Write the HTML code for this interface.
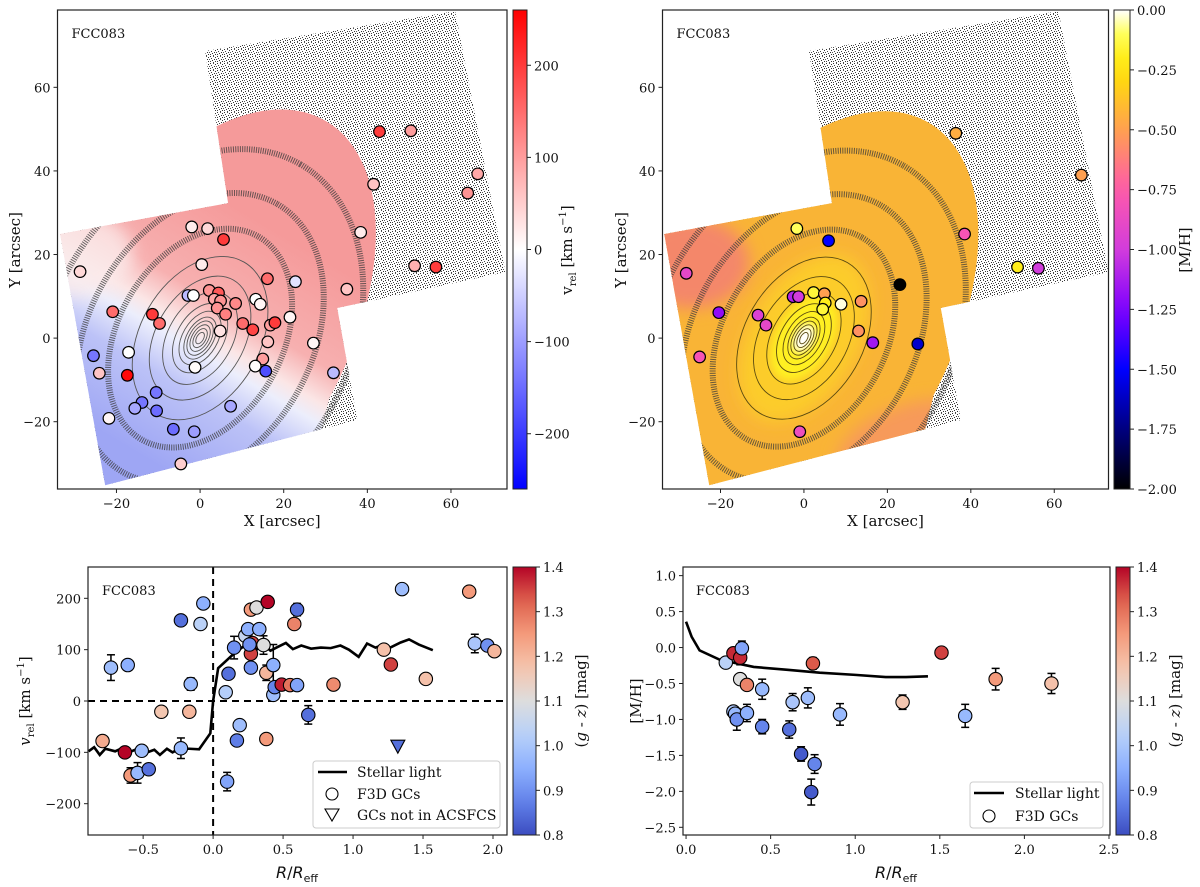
<!DOCTYPE html>
<html><head><meta charset="utf-8">
<style>
html,body{margin:0;padding:0;background:#fff;}
svg{display:block;font-family:"DejaVu Serif","Liberation Serif",serif;}
</style></head>
<body>
<svg id="fig" width="1200" height="887" viewBox="0 0 1200 887" xmlns="http://www.w3.org/2000/svg">
<defs>
<pattern id="speck" width="7" height="7" patternUnits="userSpaceOnUse">
<rect width="7" height="7" fill="#ffffff"/>
<rect x="0" y="0" width="1" height="1" fill="#333"/>
<rect x="3" y="0" width="1" height="1" fill="#555"/>
<rect x="5" y="1" width="1" height="1" fill="#333"/>
<rect x="1" y="2" width="1" height="1" fill="#444"/>
<rect x="4" y="3" width="1" height="1" fill="#333"/>
<rect x="6" y="3" width="1" height="1" fill="#555"/>
<rect x="2" y="4" width="1" height="1" fill="#333"/>
<rect x="0" y="5" width="1" height="1" fill="#444"/>
<rect x="5" y="5" width="1" height="1" fill="#333"/>
<rect x="3" y="6" width="1" height="1" fill="#444"/>
</pattern>
<filter id="blur8" x="-50%" y="-50%" width="200%" height="200%"><feGaussianBlur stdDeviation="8"/></filter>
<filter id="blur4" x="-50%" y="-50%" width="200%" height="200%"><feGaussianBlur stdDeviation="4"/></filter>
</defs>
</svg>
<script>
// ---------- DATA ----------
const mapX=[-2.0,1.8,5.6,0.4,16.1,22.8,-28.7,-2.9,-1.6,2.2,4.4,3.4,4.9,8.5,4.1,6.1,13.3,14.4,10.2,12.6,16.8,17.9,21.5,35.1,-20.9,-11.4,-9.7,4.8,16.2,27.1,-17.1,-25.5,15.0,13.2,15.7,-1.2,-24.1,-17.4,31.9,-10.5,-13.9,-15.6,-10.4,7.3,-21.8,-6.4,-1.4,-4.6,42.9,50.4,41.5,38.4,66.4,64.0,51.3,56.4];
const mapY=[26.6,26.2,23.6,17.6,14.2,13.5,15.9,10.2,10.2,11.4,10.8,9.3,8.9,8.3,7.2,5.7,9.3,8.1,3.5,2.0,3.1,3.7,5.0,11.7,6.3,5.7,3.5,1.7,-0.9,-1.2,-3.4,-4.2,-5.0,-6.7,-7.9,-7.0,-8.4,-8.9,-8.3,-13.0,-15.4,-16.8,-17.4,-16.3,-19.2,-21.8,-22.4,-30.1,49.4,49.6,36.8,25.3,39.3,34.7,17.3,17.0];
const mapV=[20,40,200,20,150,-30,40,-70,0,110,170,90,110,120,110,130,0,10,150,190,100,200,10,60,150,200,150,30,60,10,0,-140,100,5,-180,5,60,250,-70,-140,-140,-90,-150,-90,10,-150,-100,50,200,100,60,20,90,110,80,200];
const metX=[-1.7,5.9,-28.2,23.0,2.3,4.9,-2.6,-1.3,5.1,8.9,4.5,13.7,-20.4,-11.0,-9.1,13.1,16.5,27.3,-25.0,-1.0,36.4,38.5,66.5,51.2,56.2];
const metY=[26.2,23.3,15.5,12.8,10.9,10.6,9.9,9.9,8.4,8.1,6.9,8.8,6.1,5.5,3.1,1.7,-1.1,-1.4,-4.5,-22.4,49.0,24.9,39.0,17.0,16.7];
const metMH=[-0.1,-1.5,-0.9,-2.0,-0.15,-0.5,-1.1,-1.0,-0.2,-0.02,-0.15,-0.55,-1.2,-0.95,-0.9,-0.55,-1.15,-1.6,-0.8,-0.85,-0.45,-0.8,-0.5,-0.2,-1.0];
const rvR=[-0.73,-0.61,-0.79,-0.63,-0.51,-0.59,-0.54,-0.46,-0.23,-0.07,-0.09,-0.16,-0.37,-0.17,-0.23,0.09,0.11,0.15,0.10,0.17,0.19,0.27,0.31,0.39,0.23,0.25,0.33,0.28,0.27,0.27,0.26,0.36,0.38,0.38,0.43,0.43,0.44,0.49,0.55,0.60,0.60,0.58,0.68,0.86,1.22,1.27,1.52,1.35,1.83,1.87,1.96,2.01];
const rvV=[65,70,-78,-100,-97,-145,-140,-133,157,190,150,33,-21,-21,-92,17,53,104,-157,-77,-47,178,182,193,127,140,140,113,92,65,110,109,55,-74,70,12,27,32,31,31,178,150,-27,32,100,71,43,218,213,112,108,97];
const rvErr=[25,5,10,5,5,15,20,10,5,8,5,12,5,10,20,5,5,22,18,5,5,5,5,5,5,5,10,5,5,5,5,18,15,10,40,5,5,5,5,8,12,5,18,5,5,5,10,10,5,18,5,5];
const rvCol=[0.98,0.95,1.22,1.4,0.98,1.25,0.97,0.85,0.85,0.95,1.03,0.97,1.17,1.2,0.97,1.02,0.85,0.9,0.93,0.87,0.98,1.25,1.1,1.4,1.05,0.95,0.95,1.35,1.35,0.9,0.9,1.1,1.2,1.25,0.95,0.98,0.88,1.38,1.3,0.93,0.85,1.28,0.85,1.27,1.18,1.35,1.18,0.98,1.25,1.0,0.9,1.2];
const triR=[1.32];
const triV=[-88];
const triCol=[0.85];
const slR=[-0.89,-0.85,-0.81,-0.77,-0.70,-0.66,-0.60,-0.55,-0.49,-0.42,-0.38,-0.33,-0.29,-0.24,-0.17,-0.10,-0.02,0.0,0.036,0.10,0.14,0.21,0.26,0.31,0.36,0.41,0.46,0.52,0.57,0.63,0.70,0.77,0.84,0.91,0.97,1.04,1.10,1.16,1.22,1.25,1.34,1.40,1.47,1.57];
const slV=[-98,-90,-105,-93,-98,-93,-100,-94,-102,-95,-105,-93,-100,-93,-93,-94,-63,0,64,80,90,105,112,100,110,98,105,113,101,108,102,104,103,108,100,86,112,104,110,102,114,120,110,99];
const mhR=[0.235,0.28,0.32,0.33,0.32,0.36,0.28,0.29,0.30,0.36,0.45,0.45,0.63,0.72,0.75,0.61,0.68,0.76,0.74,0.91,1.28,1.51,1.65,1.83,2.16];
const mhM=[-0.21,-0.08,-0.14,-0.01,-0.44,-0.52,-0.89,-0.92,-1.0,-0.91,-0.58,-1.1,-0.76,-0.7,-0.22,-1.14,-1.48,-1.62,-2.01,-0.93,-0.76,-0.07,-0.95,-0.44,-0.5];
const mhErr=[0.05,0.05,0.1,0.1,0.05,0.04,0.04,0.05,0.15,0.12,0.14,0.1,0.12,0.14,0.08,0.12,0.1,0.13,0.18,0.15,0.1,0.03,0.16,0.15,0.14];
const mhCol=[1.03,1.37,1.37,0.93,1.1,1.28,1.0,0.97,0.9,0.95,0.97,0.88,1.0,0.98,1.33,0.85,0.82,0.88,0.82,0.97,1.17,1.35,0.97,1.25,1.18];
const slmR=[0.0,0.033,0.08,0.2,0.4,0.6,0.79,1.0,1.18,1.3,1.43];
const slmM=[0.36,0.15,-0.04,-0.17,-0.27,-0.31,-0.35,-0.38,-0.41,-0.41,-0.40];
const mapXTicks=[-20,0,20,40,60];
const mapYTicks=[-20,0,20,40,60];
const velCbTicks=[-200,-100,0,100,200];
const metCbTicks=[0,-0.25,-0.5,-0.75,-1.0,-1.25,-1.5,-1.75,-2.0];
const gzTicks=[0.8,0.9,1.0,1.1,1.2,1.3,1.4];
const blXTicks=[-0.5,0,0.5,1.0,1.5,2.0];
const blYTicks=[-200,-100,0,100,200];
const brXTicks=[0,0.5,1.0,1.5,2.0,2.5];
const brYTicks=[1.0,0.5,0,-0.5,-1.0,-1.5,-2.0,-2.5];

// ---------- HELPERS ----------
const NS='http://www.w3.org/2000/svg';
const svg=document.getElementById('fig');
const FS=13;
function el(tag,attrs,parent){const e=document.createElementNS(NS,tag);for(const k in attrs)e.setAttribute(k,attrs[k]);(parent||svg).appendChild(e);return e;}
function txt(x,y,s,size,anchor,parent){const t=el('text',{x:x,y:y,'font-size':size,'text-anchor':anchor||'middle',fill:'#111'},parent);t.textContent=s;return t;}
function lerpStops(stops,t){t=Math.max(0,Math.min(1,t));for(let i=1;i<stops.length;i++){if(t<=stops[i][0]){const a=stops[i-1],b=stops[i];const f=(t-a[0])/(b[0]-a[0]||1);const c=[0,1,2].map(j=>Math.round(a[1][j]+(b[1][j]-a[1][j])*f));return 'rgb('+c.join(',')+')';}}const l=stops[stops.length-1][1];return 'rgb('+l.join(',')+')';}
const coolwarm=[[0,[59,76,192]],[0.125,[98,130,234]],[0.25,[141,176,254]],[0.375,[184,208,249]],[0.5,[221,221,221]],[0.625,[245,196,173]],[0.75,[244,154,123]],[0.875,[222,96,77]],[1,[180,4,38]]];
const bwr=[[0,[0,0,255]],[0.5,[255,255,255]],[1,[255,0,0]]];
const gnu=[[0,[0,0,0]],[0.125,[0,0,128]],[0.25,[0,0,255]],[0.375,[128,0,255]],[0.5,[210,60,220]],[0.625,[255,90,170]],[0.75,[255,160,80]],[0.88,[255,230,0]],[0.95,[255,255,90]],[1,[255,255,255]]];
function fmt(v,d){const s=v.toFixed(d);return s.replace('-','\u2212');}

function makeAxis(L,T,R,B,xmin,xmax,ymin,ymax){return {L,T,R,B,sx:v=>L+(v-xmin)/(xmax-xmin)*(R-L),sy:v=>B-(v-ymin)/(ymax-ymin)*(B-T)};}
function frame(ax,g){el('rect',{x:ax.L,y:ax.T,width:ax.R-ax.L,height:ax.B-ax.T,fill:'none',stroke:'#222','stroke-width':1.2},g);}
function xticks(ax,ticks,dec,g){ticks.forEach(v=>{const x=ax.sx(v);el('line',{x1:x,y1:ax.B,x2:x,y2:ax.B+4,stroke:'#222'},g);const t=txt(x,ax.B+19,fmt(v,dec),FS,'middle',g);

});}
function yticks(ax,ticks,dec,g){ticks.forEach(v=>{const y=ax.sy(v);el('line',{x1:ax.L-4,y1:y,x2:ax.L,y2:y,stroke:'#222'},g);const t=txt(ax.L-7,y+5,fmt(v,dec),FS,'end',g);

});}
function colorbar(id,x,T,w,B,stops,vmin,vmax,ticks,dec,g){
  const gr=el('linearGradient',{id:id,x1:0,y1:1,x2:0,y2:0},svg.querySelector('defs'));
  for(let i=0;i<=20;i++){el('stop',{offset:i/20,'stop-color':lerpStops(stops,i/20)},gr);}
  const r=el('rect',{x:x,y:T,width:w,height:B-T,fill:'url(#'+id+')',stroke:'#222','stroke-width':1},g);
  
  
  ticks.forEach(v=>{const y=B-(v-vmin)/(vmax-vmin)*(B-T);el('line',{x1:x+w,y1:y,x2:x+w+4,y2:y,stroke:'#222'},g);const t=txt(x+w+7,y+5,fmt(v,dec),FS,'start',g);
  
  });
}
function rotLabel(x,y,content,size,g){const t=el('text',{x:0,y:0,'font-size':size,'text-anchor':'middle',fill:'#111',transform:'translate('+x+','+y+') rotate(-90)'},g);t.innerHTML=content;return t;}

// ---------- MAP PANELS ----------
const outline=[[-33.5,24.9],[6.7,32.3],[1.2,68.7],[61,78.2],[73,15.8],[32.8,7.2],[37.6,-19.6],[-22.7,-35.2]];
const lowerField=[[-33.5,24.9],[6.7,32.3],[30,36],[33.5,-4],[29,-22],[-22.7,-35.2]];
const rings=[[1.5,0.55],[2.5,0.55],[3.5,0.56],[4.5,0.57],[5.5,0.58],[7,0.6],[9,0.62],[12,0.64],[16,0.66],[21,0.68]];
const bands=[[28,0.7],[37,0.72],[48,0.74]];
const PA=-60;
function mapPanel(ax,kind,g){
  const pts=outline.map(p=>ax.sx(p[0])+','+ax.sy(p[1])).join(' ');
  const lpts=lowerField.map(p=>ax.sx(p[0])+','+ax.sy(p[1])).join(' ');
  const cid='clip-'+kind;
  const cp=el('clipPath',{id:cid},svg.querySelector('defs'));
  el('polygon',{points:pts},cp);
  const cx=ax.sx(0),cy=ax.sy(0),k=(ax.R-ax.L)/107.5;
  const field=el('polygon',{points:pts,fill:'url(#speck)'},g);
  
  
  const cg=el('g',{'clip-path':'url(#'+cid+')'},g);
  const ccp=el('clipPath',{id:cid+'-e'},svg.querySelector('defs'));
  el('ellipse',{cx:cx,cy:cy,rx:60*k,ry:34*k,transform:'rotate('+PA+' '+cx+' '+cy+')'},ccp);
  el('polygon',{points:lpts},ccp);
  const inner=el('g',{'clip-path':'url(#'+cid+'-e)'},cg);
  
  
  if(kind==='vel'){
    const gr=el('linearGradient',{id:'velgrad',gradientUnits:'userSpaceOnUse',x1:cx-16*k,y1:cy+27*k,x2:cx+16*k,y2:cy-27*k},svg.querySelector('defs'));
    [[0,'#9ea6f4'],[0.3,'#bcc2f7'],[0.45,'#eceefc'],[0.52,'#fbe6e6'],[0.65,'#f7b0b0'],[1,'#f59a9a']].forEach(s=>el('stop',{offset:s[0],'stop-color':s[1]},gr));
    el('rect',{x:ax.L,y:ax.T,width:ax.R-ax.L,height:ax.B-ax.T,fill:'url(#velgrad)'},inner);
    el('ellipse',{cx:ax.sx(-30),cy:ax.sy(20),rx:14*k,ry:10*k,fill:'#fbeaea',opacity:0.8,filter:'url(#blur8)'},inner);
  } else {
    el('rect',{x:ax.L,y:ax.T,width:ax.R-ax.L,height:ax.B-ax.T,fill:'#f9b436'},inner);
    el('ellipse',{cx:ax.sx(-27),cy:ax.sy(18),rx:14*k,ry:11*k,fill:'#f4876a',filter:'url(#blur8)'},inner);
    el('ellipse',{cx:ax.sx(25),cy:ax.sy(-25),rx:18*k,ry:9*k,fill:'#f79a5a',filter:'url(#blur8)',transform:'rotate(-20 '+ax.sx(25)+' '+ax.sy(-25)+')'},inner);
    el('ellipse',{cx:cx,cy:cy,rx:22*k,ry:13*k,fill:'#fccc2a',filter:'url(#blur8)',transform:'rotate('+PA+' '+cx+' '+cy+')'},inner);
    el('ellipse',{cx:cx,cy:cy,rx:11*k,ry:6.5*k,fill:'#fff020',filter:'url(#blur4)',transform:'rotate('+PA+' '+cx+' '+cy+')'},inner);
    el('ellipse',{cx:cx,cy:cy,rx:3.5*k,ry:2.2*k,fill:'#ffffff',filter:'url(#blur4)',transform:'rotate('+PA+' '+cx+' '+cy+')'},inner);
  }
  const cont=el('g',{fill:'none'},cg);
  
  
  rings.forEach(r=>el('ellipse',{cx:cx,cy:cy,rx:r[0]*k,ry:r[0]*r[1]*k,stroke:kind==='vel'?'#555':'#5a4a10','stroke-width':0.9,transform:'rotate('+PA+' '+cx+' '+cy+')'},cont));
  bands.forEach(r=>el('ellipse',{cx:cx,cy:cy,rx:r[0]*k,ry:r[0]*r[1]*k,stroke:'#3a3a3a','stroke-width':6,'stroke-dasharray':'1 1.3',opacity:0.75,transform:'rotate('+PA+' '+cx+' '+cy+')'},cont));
  const lab=txt(ax.L+14,ax.T+28,'FCC083',13,'start',g);
  
  
}

// Panel 1: velocity map
const g1=el('g',{});


const ax1=makeAxis(57.5,10,507,489,-34.1,73.4,-36.1,78.5);
mapPanel(ax1,'vel',g1);
mapX.forEach((x,i)=>{const c=el('circle',{cx:ax1.sx(x),cy:ax1.sy(mapY[i]),r:5.8,fill:lerpStops(bwr,(mapV[i]+260)/520),stroke:'#000','stroke-width':1.2},g1);

});
frame(ax1,g1);xticks(ax1,mapXTicks,0,g1);yticks(ax1,mapYTicks,0,g1);
let t=txt((ax1.L+ax1.R)/2,526,'X [arcsec]',15,'middle',g1);


t=rotLabel(20,250,'Y [arcsec]',15,g1);


colorbar('cb1',513,10,14,489,bwr,-260,260,velCbTicks,0,g1);
t=rotLabel(572,250,'v<tspan font-size="10" dy="4">rel</tspan><tspan dy="-4"> [km s</tspan><tspan font-size="10" dy="-6">\u22121</tspan><tspan dy="6">]</tspan>',15,g1);



// Panel 2: metallicity map
const g2=el('g',{});


const ax2=makeAxis(662.5,10,1108.5,489,-33.9,73.0,-36.1,78.5);
mapPanel(ax2,'met',g2);
metX.forEach((x,i)=>{const c=el('circle',{cx:ax2.sx(x),cy:ax2.sy(metY[i]),r:5.8,fill:lerpStops(gnu,(metMH[i]+2)/2),stroke:'#000','stroke-width':1.2},g2);

});
frame(ax2,g2);xticks(ax2,mapXTicks,0,g2);yticks(ax2,mapYTicks,0,g2);
t=txt((ax2.L+ax2.R)/2,526,'X [arcsec]',15,'middle',g2);


t=rotLabel(626,250,'Y [arcsec]',15,g2);


colorbar('cb2',1114,10,16,489,gnu,-2,0,metCbTicks,2,g2);
t=rotLabel(1190,250,'[M/H]',15,g2);



// ---------- BOTTOM PANELS ----------
function errbar(ax,x,y,e,g){const px=ax.sx(x),y1=ax.sy(y-e),y2=ax.sy(y+e);
el('line',{x1:px,y1:y1,x2:px,y2:y2,stroke:'#000','stroke-width':1.5},g);
el('line',{x1:px-4,y1:y1,x2:px+4,y2:y1,stroke:'#000','stroke-width':1.5},g);
el('line',{x1:px-4,y1:y2,x2:px+4,y2:y2,stroke:'#000','stroke-width':1.5},g);}

// Panel 3
const g3=el('g',{});


const ax3=makeAxis(88,567,507,835,-0.894,2.1,-261,261);
el('line',{x1:ax3.L,y1:ax3.sy(0),x2:ax3.R,y2:ax3.sy(0),stroke:'#000','stroke-width':2,'stroke-dasharray':'7 5'},g3);
el('line',{x1:ax3.sx(0),y1:ax3.T,x2:ax3.sx(0),y2:ax3.B,stroke:'#000','stroke-width':2,'stroke-dasharray':'7 5'},g3);
const sl=el('polyline',{points:slR.map((r,i)=>ax3.sx(r)+','+ax3.sy(slV[i])).join(' '),fill:'none',stroke:'#000','stroke-width':2.6},g3);


rvR.forEach((r,i)=>errbar(ax3,r,rvV[i],rvErr[i],g3));
rvR.forEach((r,i)=>{const c=el('circle',{cx:ax3.sx(r),cy:ax3.sy(rvV[i]),r:6.7,fill:lerpStops(coolwarm,(rvCol[i]-0.8)/0.6),stroke:'#000','stroke-width':1.1},g3);

});
triR.forEach((r,i)=>{const x=ax3.sx(r),y=ax3.sy(triV[i]);const p=el('polygon',{points:(x-7)+','+(y-6)+' '+(x+7)+','+(y-6)+' '+x+','+(y+7),fill:lerpStops(coolwarm,(triCol[i]-0.8)/0.6),stroke:'#000','stroke-width':1.1},g3);

});
frame(ax3,g3);xticks(ax3,blXTicks,1,g3);yticks(ax3,blYTicks,0,g3);
t=txt(102,595,'FCC083',13,'start',g3);


t=el('text',{x:297,y:878,'font-size':16,'text-anchor':'middle',fill:'#111','font-family':'DejaVu Sans, Liberation Sans, sans-serif'},g3);
t.innerHTML='<tspan font-style="italic">R</tspan>/<tspan font-style="italic">R</tspan><tspan font-size="11" dy="4">eff</tspan>';


t=rotLabel(30,701,'<tspan font-style="italic">v</tspan><tspan font-size="10" dy="4">rel</tspan><tspan dy="-4"> [km s</tspan><tspan font-size="10" dy="-6">\u22121</tspan><tspan dy="6">]</tspan>',15,g3);


colorbar('cb3',513,567,23,835,coolwarm,0.8,1.4,gzTicks,1,g3);
t=rotLabel(586,701,'(<tspan font-style="italic">g</tspan> - <tspan font-style="italic">z</tspan>) [mag]',15,g3);


const lg3=el('g',{},g3);


el('rect',{x:313,y:761,width:187,height:67,rx:3,fill:'#fff',stroke:'#ccc','fill-opacity':0.85},lg3);
el('line',{x1:318,y1:772,x2:347,y2:772,stroke:'#000','stroke-width':2.6},lg3);
txt(357,777,'Stellar light',14,'start',lg3);
el('circle',{cx:332,cy:794,r:6,fill:'#fff',stroke:'#000','stroke-width':1.1},lg3);
txt(357,799,'F3D GCs',14,'start',lg3);
el('polygon',{points:'325,809 339,809 332,821',fill:'#fff',stroke:'#000','stroke-width':1.1},lg3);
txt(357,820,'GCs not in ACSFCS',14,'start',lg3);

// Panel 4
const g4=el('g',{});


const ax4=makeAxis(683,567,1110,835,-0.018,2.506,-2.607,1.12);
const sl2=el('polyline',{points:slmR.map((r,i)=>ax4.sx(r)+','+ax4.sy(slmM[i])).join(' '),fill:'none',stroke:'#000','stroke-width':2.6},g4);


mhR.forEach((r,i)=>errbar(ax4,r,mhM[i],mhErr[i],g4));
mhR.forEach((r,i)=>{const c=el('circle',{cx:ax4.sx(r),cy:ax4.sy(mhM[i]),r:6.7,fill:lerpStops(coolwarm,(mhCol[i]-0.8)/0.6),stroke:'#000','stroke-width':1.1},g4);

});
frame(ax4,g4);xticks(ax4,brXTicks,1,g4);yticks(ax4,brYTicks,1,g4);
t=txt(696,595,'FCC083',13,'start',g4);


t=el('text',{x:896,y:878,'font-size':16,'text-anchor':'middle',fill:'#111','font-family':'DejaVu Sans, Liberation Sans, sans-serif'},g4);
t.innerHTML='<tspan font-style="italic">R</tspan>/<tspan font-style="italic">R</tspan><tspan font-size="11" dy="4">eff</tspan>';


t=rotLabel(641,701,'[M/H]',15,g4);


colorbar('cb4',1116,567,14,835,coolwarm,0.8,1.4,gzTicks,1,g4);
t=rotLabel(1180,701,'(<tspan font-style="italic">g</tspan> - <tspan font-style="italic">z</tspan>) [mag]',15,g4);


const lg4=el('g',{},g4);


el('rect',{x:970,y:782,width:133,height:46,rx:3,fill:'#fff',stroke:'#ccc','fill-opacity':0.85},lg4);
el('line',{x1:974,y1:793,x2:1004,y2:793,stroke:'#000','stroke-width':2.6},lg4);
txt(1015,798,'Stellar light',14,'start',lg4);
el('circle',{cx:989,cy:816,r:6,fill:'#fff',stroke:'#000','stroke-width':1.1},lg4);
txt(1015,821,'F3D GCs',14,'start',lg4);
</script>
</body></html>
